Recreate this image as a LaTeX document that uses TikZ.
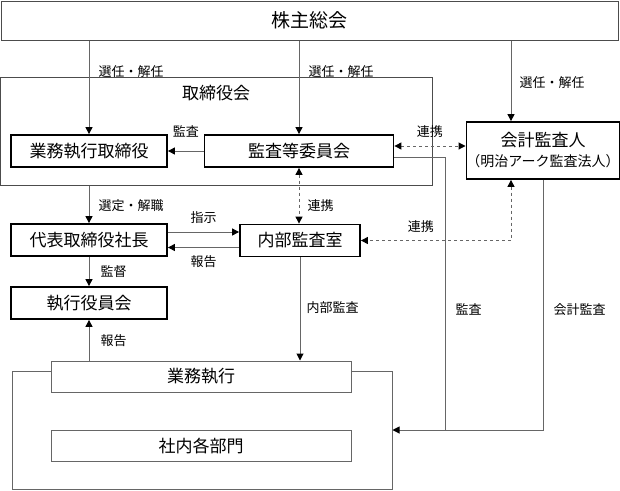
\documentclass[tikz,border=0pt]{standalone}
\usepackage{fontspec}
\setmainfont{Noto Sans CJK JP}
\usetikzlibrary{arrows.meta}

\tikzset{
    >={Triangle[width=7pt,length=7pt,color=black]},
    link/.style={draw=black!60, line width=1pt},
    mainbox/.style={draw, line width=1.8pt, fill=white, minimum height=32, inner sep=0,
        font=\fontsize{17}{20}\selectfont},
    subbox/.style={draw=black!60, line width=1pt, fill=white, minimum width=300,
        minimum height=31, inner sep=0, font=\fontsize{17}{20}\selectfont},
    frame/.style={draw=black!70, line width=1pt, inner sep=0},
    tag/.style={inner sep=0, font=\fontsize{13}{15}\selectfont}
}

\begin{document}
\begin{tikzpicture}[x=1pt, y=-1pt]

    \useasboundingbox (0,0) rectangle (620,490);

    % Draw the general meeting
    \node[frame, minimum width=617, minimum height=39, font=\fontsize{19}{22}\selectfont]
        (agm) at (309.5,20.5) {株主総会};

    % Draw the board frame
    \node[frame, minimum width=432, minimum height=108] (board) at (216,131) {};
    \node[inner sep=0, font=\fontsize{17}{20}\selectfont] (boardname) at (216,93) {取締役会};

    % Draw the main boxes
    \node[mainbox, minimum width=156] (director) at (89,151) {業務執行取締役};
    \node[mainbox, minimum width=189] (committee) at (299,151) {監査等委員会};
    \node[mainbox, minimum width=152, minimum height=57, align=center] (auditor) at (543,150.5)
        {会計監査人\\{\fontsize{14}{17}\selectfont （明治アーク監査法人）}};
    \node[mainbox, minimum width=156] (president) at (89,240) {代表取締役社長};
    \node[mainbox, minimum width=156] (officers) at (89,303) {執行役員会};
    \node[mainbox, minimum width=120] (internal) at (300,240.5) {内部監査室};

    % Draw the company frame and its parts
    \node[frame, draw=black!60, minimum width=380, minimum height=118] (company) at (202,430) {};
    \node[subbox] (execution) at (201,376.5) {業務執行};
    \node[subbox] (departments) at (201,446) {社内各部門};

    % Helper points off the auditor box
    \coordinate (feed) at ([xshift=-32pt]auditor.north);
    \coordinate (liaison) at ([xshift=-32pt]auditor.south);
    \coordinate (meet) at (445,430);

    % Election by the general meeting
    \draw[link, ->] (agm.south -| director.north) -- (director.north)
        node[tag, right=9pt, pos=0.33] {選任・解任};
    \draw[link, ->] (agm.south -| committee.north) -- (committee.north)
        node[tag, right=9pt, pos=0.33] {選任・解任};
    \draw[link, ->] (feed |- agm.south) -- (feed)
        node[tag, right=8pt, pos=0.52] {選任・解任};

    % Inside the board
    \draw[link, ->] (committee.west) -- (director.east)
        node[tag, above=13.5pt, midway] {監査};
    \draw[link, dashed, <->] ([yshift=5pt]committee.east) -- ([yshift=5pt]committee.east -| auditor.west)
        node[tag, above=7.5pt, midway] {連携};

    % Board to president
    \draw[link, ->] (board.south -| president.north) -- (president.north)
        node[tag, right=9pt, pos=0.54] {選定・解職};
    \draw[link, ->] ([yshift=8pt]president.east) -- ([yshift=8pt]president.east -| internal.west)
        node[tag, above=7.5pt, midway] {指示};
    \draw[link, ->] ([yshift=-7pt]internal.west) -- ([yshift=-7pt]internal.west -| president.east)
        node[tag, below=7.5pt, midway] {報告};
    \draw[link, ->] (president.south) -- (officers.north)
        node[tag, right=11pt, midway] {監督};
    \draw[link, ->] (officers.south |- execution.north) -- (officers.south)
        node[tag, right=11pt, midway] {報告};

    % Internal audit links
    \draw[link, dashed, <->] (committee.south) -- (committee.south |- internal.north)
        node[tag, right=8pt, pos=0.68] {連携};
    \draw[link, ->] (internal.south) -- (internal.south |- execution.north)
        node[tag, right=6pt, pos=0.49] {内部監査};
    \draw[link, dashed, <->] (liaison) |- (internal.east)
        node[tag, above=7pt, pos=0.8] {連携};

    % Audits of the company
    \draw[link] ([yshift=-6pt]committee.east) -| (meet)
        node[tag, right=10pt, pos=0.78] {監査};
    \draw[link, ->] (auditor.south) |- (company.east)
        node[tag, right=10pt, pos=0.26] {会計監査};

\end{tikzpicture}
\end{document}
